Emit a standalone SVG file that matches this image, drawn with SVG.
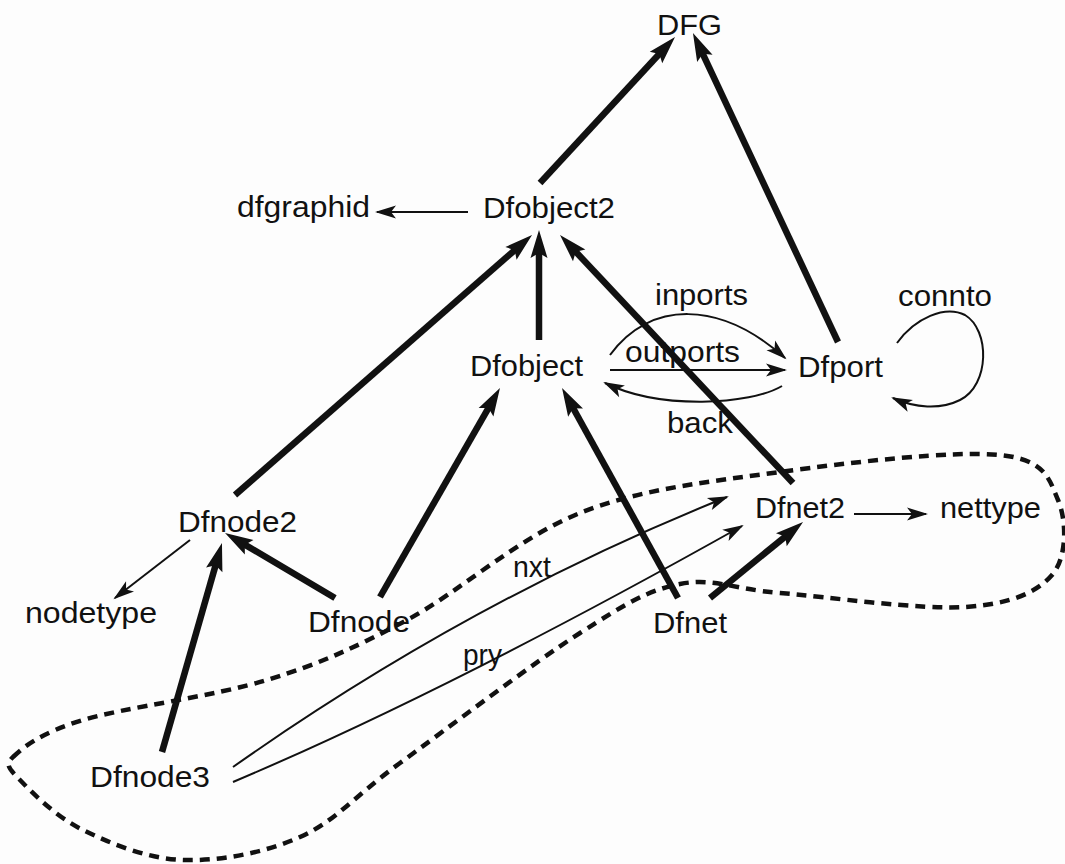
<svg xmlns="http://www.w3.org/2000/svg" width="1065" height="864" viewBox="0 0 1065 864">
  <style>
    text { font-family: "Liberation Sans", Arial, Helvetica, sans-serif; font-size: 29px; fill: #111; }
    .thick { fill: none; stroke: #111; stroke-width: 6.5; stroke-linecap: butt; marker-end: url(#ah-thick); }
    .thin { fill: none; stroke: #111; stroke-width: 2; marker-end: url(#ah-thin); }
    .group { fill: none; stroke: #111; stroke-width: 4.5; stroke-dasharray: 10 7; }
  </style>
  <defs>
    <marker id="ah-thick" markerUnits="userSpaceOnUse" viewBox="-16 -10 32 20" markerWidth="32" markerHeight="20" refX="0" refY="0" orient="auto">
      <path d="M14,0 L-14,-8.5 L-9,0 L-14,8.5 Z" fill="#111"/>
    </marker>
    <marker id="ah-thin" markerUnits="userSpaceOnUse" viewBox="-22 -8 26 16" markerWidth="26" markerHeight="16" refX="0" refY="0" orient="auto">
      <path d="M2,0 L-19,-6.5 L-14,0 L-19,6.5 Z" fill="#111"/>
    </marker>
  </defs>

  <rect width="1065" height="864" fill="#fdfdfd"/>

  <!-- dashed grouping outline around Dfnode3 / Dfnet2 -->
  <path id="group-outline" class="group" d="M13,757 C23.5,747 40.7,732.8 83,720 C125.3,707.2 213,696.7 267,680 C321,663.3 354.8,647.8 407,620 C459.2,592.2 517.8,537.7 580,513 C642.2,488.3 710,481.7 780,472 C850,462.3 953.7,450.3 1000,455 C1046.3,459.7 1049.3,480 1058,500 C1066.7,520 1067.5,557.2 1052,575 C1036.5,592.8 1010.3,604 965,607 C919.7,610 827.5,596.8 780,593 C732.5,589.2 713.3,577.3 680,584 C646.7,590.7 626.7,603.2 580,633 C533.3,662.8 446.7,729 400,763 C353.3,797 336.2,820.8 300,837 C263.8,853.2 219.2,861.2 183,860 C146.8,858.8 110.2,843.3 83,830 C55.8,816.7 31.7,792.2 20,780 C8.3,767.8 5,765 13,757 Z"/>

  <g id="connectors">
    <!-- inheritance links (thick) -->
    <path class="thick" d="M540,183 L665.5,47.3"/>
    <path class="thick" d="M838,342 L698.9,45.7"/>
    <path class="thick" d="M235,495 L521.5,244.2"/>
    <path class="thick" d="M539,340 L539,244"/>
    <path class="thick" d="M793,483 L569.6,245.2"/>
    <path class="thick" d="M380,597 L493,400.1"/>
    <path class="thick" d="M678,598 L568.8,400.3"/>
    <path class="thick" d="M335,598 L237.1,540.1"/>
    <path class="thick" d="M162,752 L218.1,556.5"/>
    <path class="thick" d="M710,598 L792.2,530.9"/>

    <!-- attribute links (thin) -->
    <path class="thin" d="M468,212 L377,212"/>
    <path class="thin" d="M190,540 L115,598"/>
    <path class="thin" d="M854,514 L926,514"/>
    <path class="thin" d="M610,355 C650,300 720,300 785,358"/>
    <path class="thin" d="M610,370 L785,370"/>
    <path class="thin" d="M782,386 C750,405 660,410 605,383"/>
    <path class="thin" d="M897,343 C915,318 945,305 965,315 C990,330 990,385 960,400 C940,410 915,408 893,398"/>
    <path class="thin" d="M233,767 Q470,600 727,497"/>
    <path class="thin" d="M233,782 Q450,690 742,526"/>
  </g>

  <g id="node-DFG"><text x="657" y="35" textLength="65" lengthAdjust="spacingAndGlyphs">DFG</text></g>
  <g id="node-Dfobject2"><text x="483" y="218" textLength="132" lengthAdjust="spacingAndGlyphs">Dfobject2</text></g>
  <g id="node-dfgraphid"><text x="237" y="217" textLength="133" lengthAdjust="spacingAndGlyphs">dfgraphid</text></g>
  <g id="node-Dfobject"><text x="470" y="376" textLength="113" lengthAdjust="spacingAndGlyphs">Dfobject</text></g>
  <g id="node-Dfport"><text x="798" y="377" textLength="85" lengthAdjust="spacingAndGlyphs">Dfport</text></g>
  <g id="node-Dfnode2"><text x="178" y="532" textLength="119" lengthAdjust="spacingAndGlyphs">Dfnode2</text></g>
  <g id="node-nodetype"><text x="25" y="623" textLength="132" lengthAdjust="spacingAndGlyphs">nodetype</text></g>
  <g id="node-Dfnode"><text x="308" y="632" textLength="102" lengthAdjust="spacingAndGlyphs">Dfnode</text></g>
  <g id="node-Dfnode3"><text x="90" y="787" textLength="120" lengthAdjust="spacingAndGlyphs">Dfnode3</text></g>
  <g id="node-Dfnet2"><text x="755" y="518" textLength="90" lengthAdjust="spacingAndGlyphs">Dfnet2</text></g>
  <g id="node-nettype"><text x="940" y="518" textLength="101" lengthAdjust="spacingAndGlyphs">nettype</text></g>
  <g id="node-Dfnet"><text x="653" y="633" textLength="74" lengthAdjust="spacingAndGlyphs">Dfnet</text></g>

  <g id="edge-labels">
    <text x="655" y="305" textLength="93" lengthAdjust="spacingAndGlyphs">inports</text>
    <text x="625" y="362" textLength="115" lengthAdjust="spacingAndGlyphs">outports</text>
    <text x="667" y="433" textLength="66" lengthAdjust="spacingAndGlyphs">back</text>
    <text x="898" y="306" textLength="94" lengthAdjust="spacingAndGlyphs">connto</text>
    <text x="513" y="577" textLength="38" lengthAdjust="spacingAndGlyphs">nxt</text>
    <text x="463" y="665" textLength="39" lengthAdjust="spacingAndGlyphs">pry</text>
  </g>
</svg>
